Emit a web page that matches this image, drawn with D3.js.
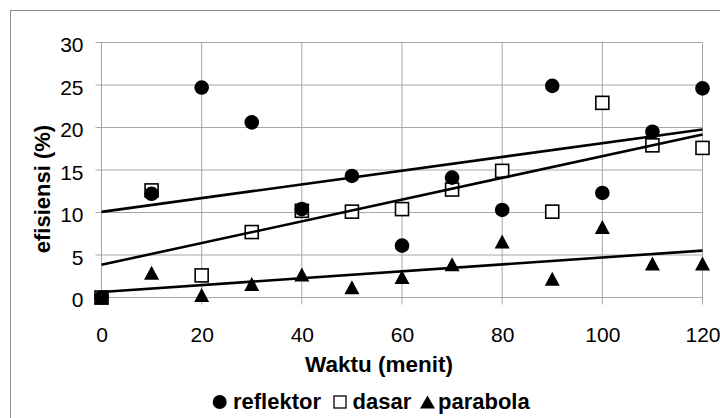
<!DOCTYPE html>
<html>
<head>
<meta charset="utf-8">
<script src="https://d3js.org/d3.v7.min.js"></script>
<style>
  body { margin: 0; background: #fff; }
  text { font-family: "Liberation Sans", Arial, sans-serif; fill: #000; }
</style>
</head>
<body>
<div id="chart"></div>
<script>
    // data
    var waktu = [0, 10, 20, 30, 40, 50, 60, 70, 80, 90, 100, 110, 120];
    var reflektor = [0, 12.2, 24.7, 20.6, 10.4, 14.3, 6.1, 14.1, 10.3, 24.9, 12.3, 19.5, 24.6];
    var dasar = [0, 12.6, 2.6, 7.7, 10.2, 10.1, 10.4, 12.7, 14.9, 10.1, 22.9, 17.9, 17.6];
    var parabola = [0, 2.9, 0.3, 1.6, 2.7, 1.2, 2.4, 3.9, 6.6, 2.2, 8.3, 4.0, 4.0];
    var xTicks = [0, 20, 40, 60, 80, 100, 120];
    var yTicks = [0, 5, 10, 15, 20, 25, 30];
    var legendNames = ["reflektor", "dasar", "parabola"];

    var width = 720, height = 418;

    var svg = d3.select("#chart").append("svg")
        .attr("width", width)
        .attr("height", height);

    // outer chart border
    svg.append("rect")
        .attr("x", 10.5).attr("y", 10.5)
        .attr("width", 720).attr("height", 420)
        .attr("fill", "none")
        .attr("stroke", "#8c8c8c");

    var x = d3.scaleLinear().domain([0, 120]).range([101.5, 702.5]);
    var y = d3.scaleLinear().domain([0, 30]).range([297.5, 42.5]);

    // gridlines + tick marks
    var grid = svg.append("g").attr("stroke", "#a6a6a6").attr("stroke-width", 1);
    grid.selectAll(".hg").data(yTicks).enter().append("line")
        .attr("x1", x(0) - 6).attr("x2", x(120))
        .attr("y1", function (d) { return y(d); })
        .attr("y2", function (d) { return y(d); });
    grid.selectAll(".vg").data(xTicks).enter().append("line")
        .attr("x1", function (d) { return x(d); })
        .attr("x2", function (d) { return x(d); })
        .attr("y1", y(30)).attr("y2", y(0) + 7);

    // axis tick labels
    var yAxis = d3.axisLeft(y).tickValues(yTicks).tickSize(0).tickPadding(18);
    svg.append("g").attr("transform", "translate(" + x(0) + ",0)").call(yAxis)
        .call(function (g) { g.select(".domain").remove(); })
        .selectAll("text")
        .style("font-size", "21px")
        .attr("dy", "0.45em");

    var xAxis = d3.axisBottom(x).tickValues(xTicks).tickSize(0).tickPadding(30);
    svg.append("g").attr("transform", "translate(0," + y(0) + ")").call(xAxis)
        .call(function (g) { g.select(".domain").remove(); })
        .selectAll("text")
        .style("font-size", "21px");

    svg.selectAll(".tick text").style("font-family", "Liberation Sans, Arial, sans-serif");

    // axis titles
    svg.append("text")
        .attr("x", 379).attr("y", 372)
        .attr("text-anchor", "middle")
        .style("font-size", "22.5px").style("font-weight", "bold")
        .text("Waktu (menit)");

    svg.append("text")
        .attr("transform", "translate(49.5,189) rotate(-90)")
        .attr("text-anchor", "middle")
        .style("font-size", "22px").style("font-weight", "bold")
        .text("efisiensi (%)");

    // markers
    function tri(cx, cy, w, h) {
        return "M" + cx + "," + (cy - h / 2) + "L" + (cx + w / 2) + "," + (cy + h / 2) +
            "L" + (cx - w / 2) + "," + (cy + h / 2) + "Z";
    }

    svg.append("g").selectAll("rect").data(waktu).enter().append("rect")
        .attr("x", function (d) { return x(d) - 6.5; })
        .attr("y", function (d, i) { return y(dasar[i]) - 6.5; })
        .attr("width", 13).attr("height", 13)
        .attr("fill", "#fff").attr("stroke", "#000").attr("stroke-width", 1.6);

    svg.append("g").selectAll("circle").data(waktu).enter().append("circle")
        .attr("cx", function (d) { return x(d); })
        .attr("cy", function (d, i) { return y(reflektor[i]); })
        .attr("r", 7.3)
        .attr("fill", "#000");

    svg.append("g").selectAll("path").data(waktu).enter().append("path")
        .attr("d", function (d, i) { return tri(x(d), y(parabola[i]), 15, 14); })
        .attr("fill", "#000");

    // linear trendlines (least squares over each series)
    function fit(ys) {
        var mx = d3.mean(waktu), my = d3.mean(ys), sxy = 0, sxx = 0;
        waktu.forEach(function (xv, i) {
            sxy += (xv - mx) * (ys[i] - my);
            sxx += (xv - mx) * (xv - mx);
        });
        var b = sxy / sxx;
        return { a: my - b * mx, b: b };
    }
    [reflektor, dasar, parabola].forEach(function (s) {
        var f = fit(s);
        svg.append("line")
            .attr("x1", x(0)).attr("y1", y(f.a))
            .attr("x2", x(120)).attr("y2", y(f.a + f.b * 120))
            .attr("stroke", "#000").attr("stroke-width", 2.6);
    });

    // legend
    var markX = [219.7, 340, 427.5];
    var textX = [233, 352.5, 438];
    var ly = 408.5, my = 402;
    var lg = svg.append("g");
    lg.append("circle").attr("cx", markX[0]).attr("cy", my).attr("r", 7).attr("fill", "#000");
    lg.append("rect").attr("x", markX[1] - 6).attr("y", my - 6).attr("width", 12).attr("height", 12)
        .attr("fill", "#fff").attr("stroke", "#000").attr("stroke-width", 1.3);
    lg.append("path").attr("d", tri(markX[2], my, 15, 13)).attr("fill", "#000");
    lg.selectAll(".lt").data(legendNames).enter().append("text")
        .attr("x", function (d, i) { return textX[i]; })
        .attr("y", ly)
        .style("font-size", "22px").style("font-weight", "bold")
        .text(function (d) { return d; });
</script>
</body>
</html>
